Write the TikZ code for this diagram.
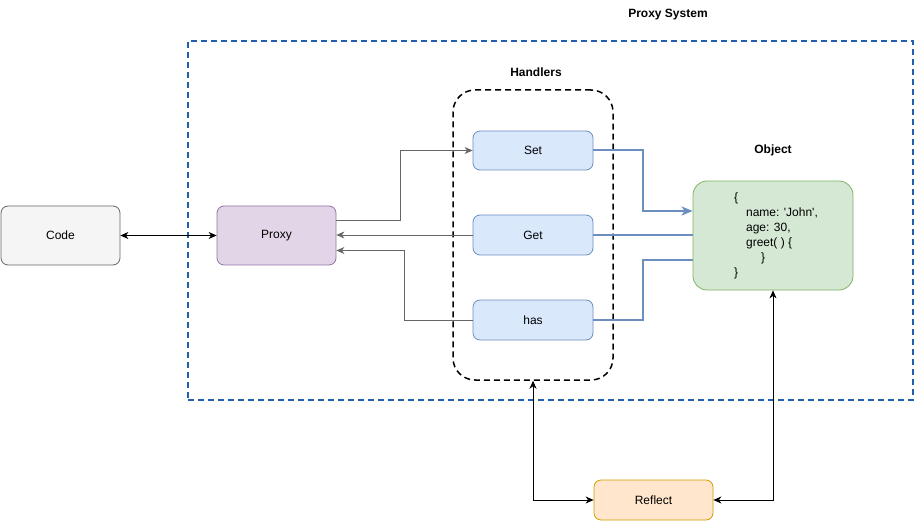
\documentclass[tikz,border=0pt]{standalone}
\usepackage{fontspec}
\setmainfont{Liberation Sans}
\usepackage{xcolor}
\usetikzlibrary{positioning}
\usetikzlibrary{arrows.meta,calc}
\usetikzlibrary{fit}

\definecolor{codefill}{HTML}{F5F5F5}
\definecolor{codeline}{HTML}{666666}
\definecolor{proxyfill}{HTML}{E1D5E7}
\definecolor{proxyline}{HTML}{9673A6}
\definecolor{handfill}{HTML}{DAE8FC}
\definecolor{handline}{HTML}{6C8EBF}
\definecolor{objfill}{HTML}{D5E8D4}
\definecolor{objline}{HTML}{82B366}
\definecolor{reffill}{HTML}{FFE6CC}
\definecolor{refline}{HTML}{D79B00}
\definecolor{sysblue}{HTML}{1F5FAD}

\begin{document}
\begin{tikzpicture}[%
x=1pt, y=-1pt,
font=\fontsize{12}{14}\selectfont,
box/.style={draw, rounded corners=7pt, inner sep=0pt, line width=0.8pt},
>={Stealth[length=8pt,width=7pt,inset=2.5pt]},
]
\useasboundingbox (0,0) rectangle (915,521);
% outer system and handler group
\node[draw=sysblue, dash pattern=on 6pt off 4pt, line width=1.5pt, fit={(188,41) (913,400)}, inner sep=0pt] (sys) {};
\node[font=\fontsize{12}{14}\selectfont\bfseries] (systitle) at (668,15) {Proxy System};
\node[draw, dash pattern=on 6pt off 4pt, line width=1.5pt, rounded corners=22pt, fit={(453,90) (613,380)}, inner sep=0pt] (handlers) {};
\node[font=\fontsize{12}{14}\selectfont\bfseries] (handtitle) at (536,72) {Handlers};
\node[font=\fontsize{12}{14}\selectfont\bfseries] (objtitle) at (773,150) {Object};
% boxes
\node[box, draw=codeline, fill=codefill, fit={(1,206) (120,265)}, label=center:Code] (code) {};
\node[box, draw=proxyline, fill=proxyfill, fit={(217,206) (336,265)}, label=center:Proxy] (proxy) {};
\node[box, draw=handline, fill=handfill, fit={(473,131) (593,170)}, label=center:Set] (set) {};
\node[box, draw=handline, fill=handfill, fit={(473,215) (593,255)}, label=center:Get] (get) {};
\node[box, draw=handline, fill=handfill, fit={(473,300) (593,340)}, label=center:has] (has) {};
\node[box, draw=objline, fill=objfill, rounded corners=14pt, fit={(693,181) (853,290)}, label={[align=left, font=\fontsize{12}{15}\selectfont, xshift=3pt]center:{\{\\\hspace*{12pt}name: \textquotesingle John\textquotesingle,\\\hspace*{12pt}age: 30,\\\hspace*{12pt}greet( ) \{\\\hspace*{27pt}\}\\\}}}] (obj) {};
\node[box, draw=refline, fill=reffill, fit={(594,480) (713,520)}, label=center:Reflect] (reflect) {};
% connectors
\draw [<->, line width=0.8pt] (code) -- (proxy);
\draw [->, codeline, line width=0.8pt] ([yshift=15pt]proxy.east) -- ++(64,0) |- (set.west);
\draw [->, codeline, line width=0.8pt] (get.west) -- (get.west -| proxy.east);
\draw [->, codeline, line width=0.8pt] (has.west) -- ++(-68,0) |- ([yshift=-15pt]proxy.east);
\draw [-{Stealth[length=11pt,width=9pt,inset=3pt]}, handline, line width=2pt] (set.east) -- ++(50,0) |- ([yshift=24.5pt]obj.west);
\draw [handline, line width=2pt] (get.east) -- (get.east -| obj.west);
\draw [handline, line width=2pt] (has.east) -- ++(50,0) |- ([yshift=-24.5pt]obj.west);
\draw [<->, line width=0.8pt] (handlers.south) |- (reflect.west);
\draw [<->, line width=0.8pt] (obj.south) |- (reflect.east);
\end{tikzpicture}
\end{document}
